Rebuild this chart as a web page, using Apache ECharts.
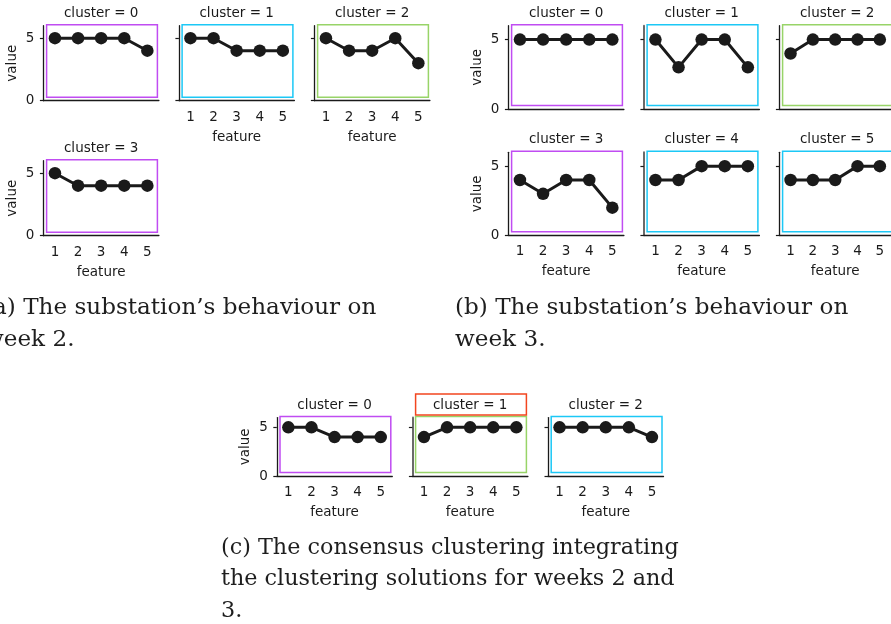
<!DOCTYPE html>
<html><head><meta charset="utf-8">
<script src="https://cdn.jsdelivr.net/npm/echarts@6/dist/echarts.min.js"></script>
<style>html,body{margin:0;padding:0;background:#fff}#c{width:891px;height:624px}</style>
</head><body><div id="c"></div><script>
// ---- data ----
const featureLabels = ['1', '2', '3', '4', '5'];
const yTickValues = [0, 5];
const yMin = 0, yMax = 6;
// (a) week 2
const week2Cluster0 = [5, 5, 5, 5, 4];
const week2Cluster1 = [5, 5, 4, 4, 4];
const week2Cluster2 = [5, 4, 4, 5, 3];
const week2Cluster3 = [5, 4, 4, 4, 4];
// (b) week 3
const week3Cluster0 = [5, 5, 5, 5, 5];
const week3Cluster1 = [5, 3, 5, 5, 3];
const week3Cluster2 = [4, 5, 5, 5, 5];
const week3Cluster3 = [4, 3, 4, 4, 2];
const week3Cluster4 = [4, 4, 5, 5, 5];
const week3Cluster5 = [4, 4, 4, 5, 5];
// (c) consensus
const consensusCluster0 = [5, 5, 4, 4, 4];
const consensusCluster1 = [4, 5, 5, 5, 5];
const consensusCluster2 = [5, 5, 5, 5, 4];

const captionA = ['(a) The substation\u2019s behaviour on', 'week 2.'];
const captionB = ['(b) The substation\u2019s behaviour on', 'week 3.'];
const captionC = ['(c) The consensus clustering integrating', 'the clustering solutions for weeks 2 and', '3.'];

// ---- styles / layout ----
const PURPLE = '#c04cf2', CYAN = '#1cc8f6', GREEN = '#98d468', RED = '#f2451f';
const INK = '#1a1a1a';
const SANS = 'DejaVu Sans';
const FS = 13.5;
const W = 115.5;

const panels = [
  {data: week2Cluster0, title: 'cluster = 0', color: PURPLE, left: 43.4,  top: 25.7,  h: 75,   xLab: false, yLab: true},
  {data: week2Cluster1, title: 'cluster = 1', color: CYAN,   left: 178.9, top: 25.7,  h: 75,   xLab: true,  yLab: false},
  {data: week2Cluster2, title: 'cluster = 2', color: GREEN,  left: 314.4, top: 25.7,  h: 75,   xLab: true,  yLab: false},
  {data: week2Cluster3, title: 'cluster = 3', color: PURPLE, left: 43.4,  top: 160.7, h: 75,   xLab: true,  yLab: true},
  {data: week3Cluster0, title: 'cluster = 0', color: PURPLE, left: 508.4, top: 25.7,  h: 83.3, xLab: false, yLab: true},
  {data: week3Cluster1, title: 'cluster = 1', color: CYAN,   left: 643.9, top: 25.7,  h: 83.3, xLab: false, yLab: false, gray: true},
  {data: week3Cluster2, title: 'cluster = 2', color: GREEN,  left: 779.4, top: 25.7,  h: 83.3, xLab: false, yLab: false},
  {data: week3Cluster3, title: 'cluster = 3', color: PURPLE, left: 508.4, top: 152.3, h: 83,   xLab: true,  yLab: true},
  {data: week3Cluster4, title: 'cluster = 4', color: CYAN,   left: 643.9, top: 152.3, h: 83,   xLab: true,  yLab: false, gray: true},
  {data: week3Cluster5, title: 'cluster = 5', color: CYAN,   left: 779.4, top: 152.3, h: 83,   xLab: true,  yLab: false},
  {data: consensusCluster0, title: 'cluster = 0', color: PURPLE, left: 276.8, top: 417.6, h: 58.4, xLab: true, yLab: true},
  {data: consensusCluster1, title: 'cluster = 1', color: GREEN,  left: 412.4, top: 417.6, h: 58.4, xLab: true, yLab: false, gray: true, titleBox: RED},
  {data: consensusCluster2, title: 'cluster = 2', color: CYAN,   left: 548.0, top: 417.6, h: 58.4, xLab: true, yLab: false}
];

const grid = [], xAxis = [], yAxis = [], series = [], elements = [];
panels.forEach((p, i) => {
  grid.push({left: p.left, top: p.top, width: W, height: p.h, containLabel: false});
  xAxis.push({
    gridIndex: i, type: 'category', data: featureLabels, boundaryGap: true,
    axisLine: {lineStyle: {color: INK, width: 1.3}},
    axisTick: {alignWithLabel: true, length: 3.5, lineStyle: {color: INK, width: 1.2}},
    axisLabel: {show: p.xLab, margin: 9.5, color: INK, fontSize: FS, fontFamily: SANS},
    name: p.xLab ? 'feature' : '', nameLocation: 'middle', nameGap: 29.5,
    nameTextStyle: {color: INK, fontSize: FS, fontFamily: SANS},
    splitLine: {show: false}
  });
  yAxis.push({
    gridIndex: i, type: 'value', min: yMin, max: yMax, interval: 5,
    axisLine: {show: true, lineStyle: {color: p.gray ? '#6a6a6a' : INK, width: p.gray ? 2 : 1.3}},
    axisTick: {show: true, length: 3.5, customValues: yTickValues, lineStyle: {color: INK, width: 1.2}},
    axisLabel: {show: p.yLab, customValues: yTickValues, margin: 9, color: INK, fontSize: FS, fontFamily: SANS},
    name: p.yLab ? 'value' : '', nameLocation: 'middle', nameGap: 24,
    nameTextStyle: {color: INK, fontSize: FS, fontFamily: SANS},
    splitLine: {show: false}
  });
  series.push({
    type: 'line', xAxisIndex: i, yAxisIndex: i, data: p.data,
    symbol: 'circle', symbolSize: 12.5, showSymbol: true,
    lineStyle: {color: INK, width: 3}, itemStyle: {color: INK},
    z: 3, clip: false
  });
  elements.push({
    type: 'rect', z: 1, silent: true,
    shape: {x: p.left + 3.2, y: p.top - 1, width: W - 4.7, height: p.h - 2.5},
    style: {fill: 'none', stroke: p.color, lineWidth: 1.5}
  });
  elements.push({
    type: 'text', z: 5, silent: true,
    x: p.left + W / 2, y: p.top - 12.5,
    style: {text: p.title, textAlign: 'center', textVerticalAlign: 'middle',
            fill: INK, fontSize: FS, fontFamily: SANS}
  });
  if (p.titleBox) {
    elements.push({
      type: 'rect', z: 1, silent: true,
      shape: {x: p.left + 3.2, y: p.top - 23.6, width: W - 4.7, height: 21},
      style: {fill: 'none', stroke: p.titleBox, lineWidth: 1.5}
    });
  }
});

function caption(lines, x, y0, lh, fs) {
  lines.forEach((t, k) => elements.push({
    type: 'text', z: 5, silent: true, x: x, y: y0 + k * lh,
    style: {text: t, textAlign: 'left', textVerticalAlign: 'middle',
            fill: '#1e1e1e', fontSize: fs, fontFamily: 'DejaVu Serif'}
  }));
}
caption(captionA, -16, 308, 31.5, 23.1);
caption(captionB, 455, 308, 31.5, 23.1);
caption(captionC, 221, 548.5, 31.2, 22.3);

const chart = echarts.init(document.getElementById('c'), null, {renderer: 'canvas'});
chart.setOption({
  animation: false,
  backgroundColor: '#fff',
  grid, xAxis, yAxis, series,
  graphic: {elements}
});
</script></body></html>
